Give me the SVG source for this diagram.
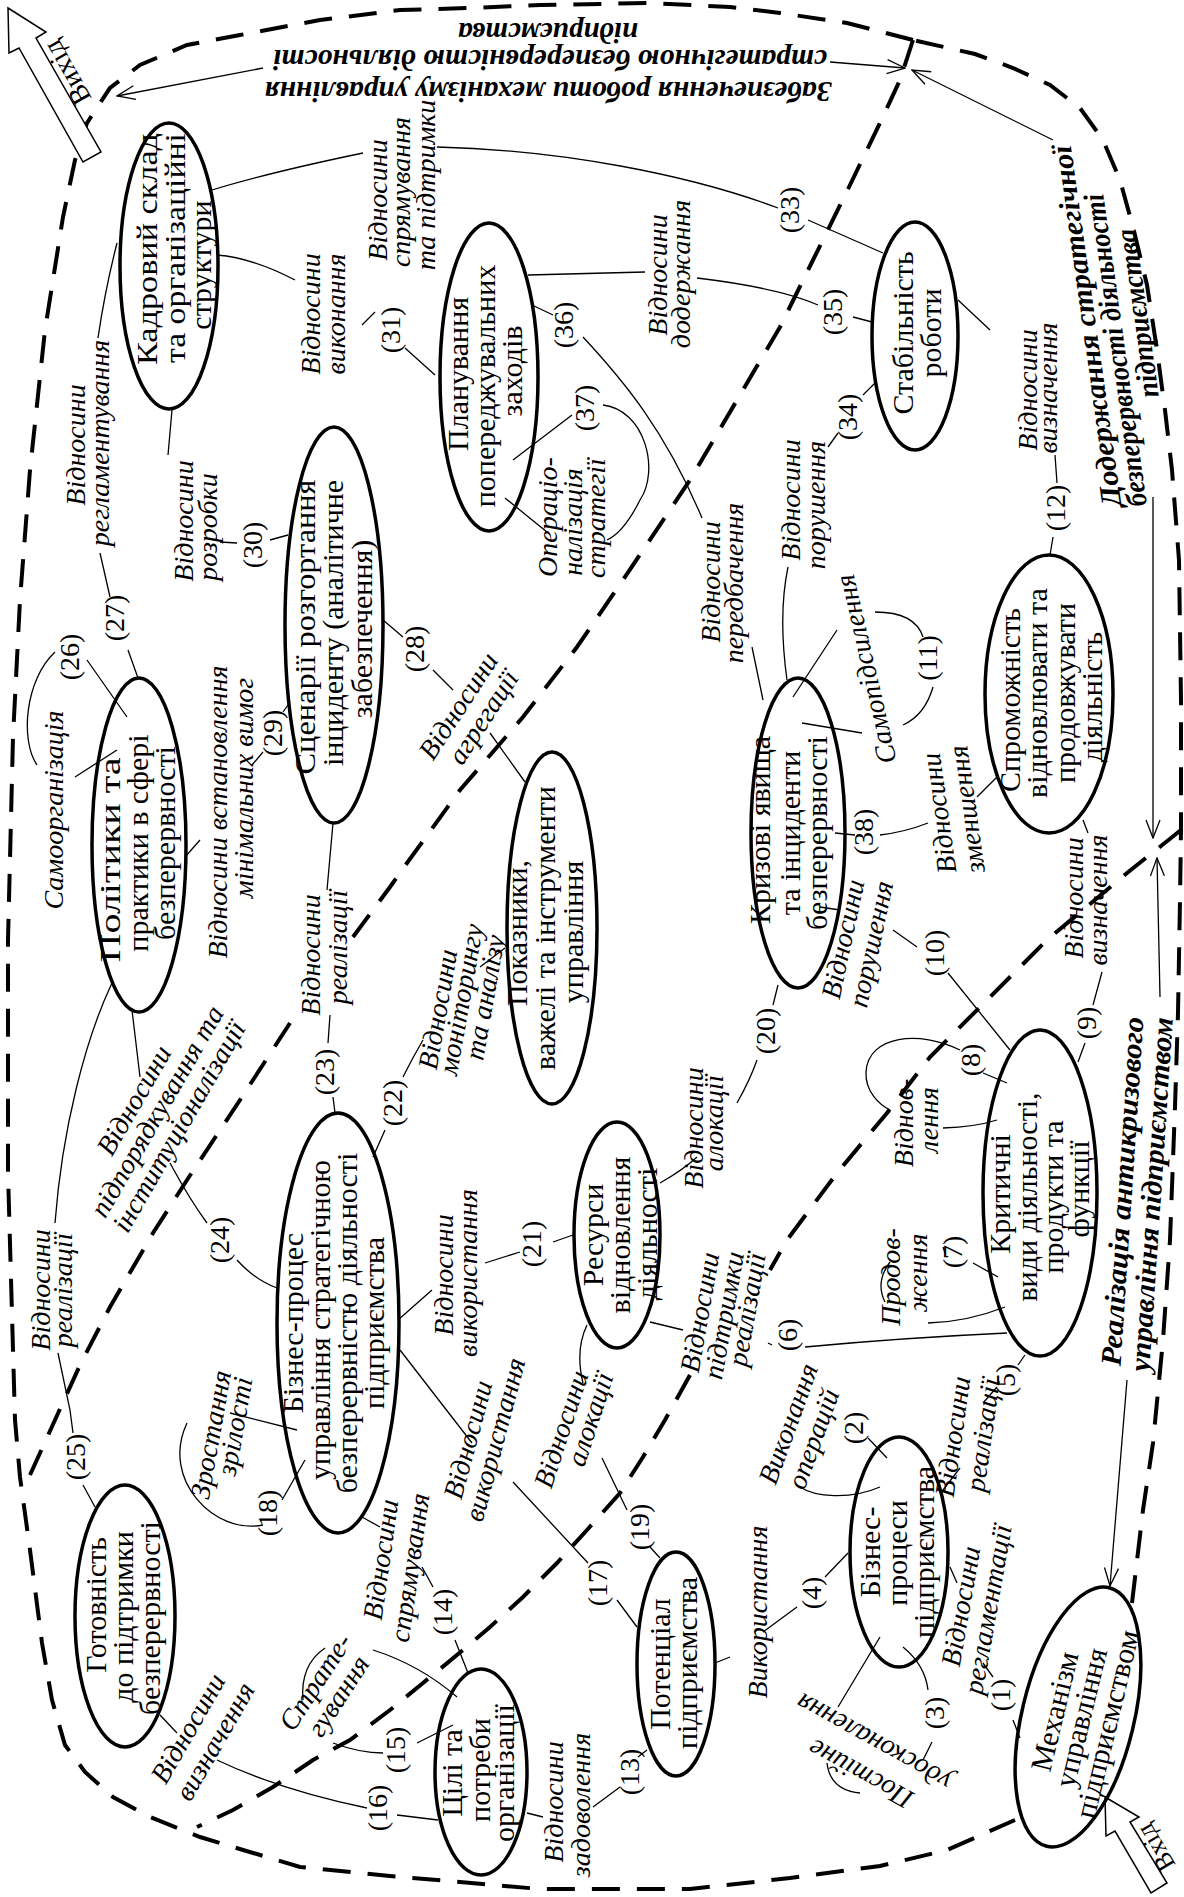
<svg xmlns="http://www.w3.org/2000/svg" width="1184" height="1897" viewBox="0 0 1184 1897">
<defs>
<style>
.dash{fill:none;stroke:#000;stroke-width:4;stroke-dasharray:28 17}
.ln{fill:none;stroke:#000;stroke-width:1.3}
.el{fill:none;stroke:#000;stroke-width:3.5}
.nt{font-family:'Liberation Serif','Times New Roman',serif;font-size:30px;text-anchor:middle}
.rt{font-family:'Liberation Serif','Times New Roman',serif;font-size:28px;font-style:italic;text-anchor:middle}
.num{font-family:'Liberation Serif','Times New Roman',serif;font-size:28px;text-anchor:middle}
.bt{font-family:'Liberation Serif','Times New Roman',serif;font-size:29px;font-weight:bold;font-style:italic;text-anchor:middle}
.ba{fill:#fff;stroke:#000;stroke-width:1.5}
</style>
<marker id="ah" viewBox="0 0 20 20" refX="19" refY="10" markerWidth="20" markerHeight="20" markerUnits="userSpaceOnUse" orient="auto"><path d="M1,3 L19,10 L1,17" fill="none" stroke="#000" stroke-width="1.3"/></marker>
</defs>
<rect width="1184" height="1897" fill="#fff"/>

<g id="boundaries">
<path class="dash" d="M913,40 L847,23 L780,13 L730,7 L650,3 L540,5 L470,8 L400,10 L320,20 L240,35 L187,45 L140,65 L110,88 L87,123 L75,160 L63,217 L45,330 L30,470 L20,600 L13,737 L8,940 L8,1173 L15,1420 L20,1477 L30,1550 L42,1643 L52,1700 L65,1745 L85,1772 L113,1797 L150,1817 L200,1837 L300,1867 L390,1876 L540,1889 L690,1889 L790,1878 L880,1866 L947,1850 L1015,1820"/>
<path class="dash" d="M1132,1603 L1143,1510 L1153,1443 L1163,1340 L1170,1240 L1175,1107 L1178,1013 L1180,900 L1181,830 L1181,700 L1179,560 L1172,470 L1165,410 L1157,350 L1147,285 L1133,227 L1120,180 L1103,140 L1080,108 L1050,85 L1013,68 L975,54 L913,40"/>
<path class="dash" d="M913,40 L900,80 L880,123 L850,185 L813,260 L780,327 L740,395 L690,480 L623,580 L577,647 L523,717 L460,790 L407,863 L390,887 L353,937"/>
<path class="dash" d="M290,1023 L240,1100 L187,1180 L153,1233 L110,1307 L80,1365 L55,1420 L30,1475"/>
<path class="dash" d="M1181,830 L1127,873 L1047,940 L980,1007 L930,1057 L887,1113 L837,1173 L787,1240 L770,1270"/>
<path class="dash" d="M690,1375 L665,1420 L643,1457 L620,1493 L587,1530 L557,1563 L523,1597 L490,1627 L463,1650 L423,1683 L390,1710 L350,1740 L313,1760 L273,1787 L233,1810 L197,1827"/>
</g>

<g id="frame-labels">
<text class="bt" transform="translate(548,82) rotate(180)" textLength="567" lengthAdjust="spacingAndGlyphs">Забезпечення роботи механізму управління</text>
<text class="bt" transform="translate(550,50) rotate(180)" textLength="554" lengthAdjust="spacingAndGlyphs">стратегічною безперервністю діяльності</text>
<text class="bt" transform="translate(548,23) rotate(180)" textLength="180" lengthAdjust="spacingAndGlyphs">підприємства</text>
<text class="bt" transform="translate(1096,325) rotate(-98)" textLength="365" lengthAdjust="spacingAndGlyphs">Додержання стратегічної</text>
<text class="bt" transform="translate(1125,349) rotate(-98)" textLength="315" lengthAdjust="spacingAndGlyphs">безперервності діяльності</text>
<text class="bt" transform="translate(1147,312) rotate(-98)" textLength="170" lengthAdjust="spacingAndGlyphs">підприємства</text>
<text class="bt" transform="translate(1132,1192) rotate(-86.2)" textLength="350" lengthAdjust="spacingAndGlyphs">Реалізація антикризового</text>
<text class="bt" transform="translate(1161,1195) rotate(-86.2)" textLength="355" lengthAdjust="spacingAndGlyphs">управління підприємством</text>
<polygon class="ba" points="8,8 46,32 36,38 101,152 83,162 19,48 9,53"/>
<text class="num" transform="translate(75,68) rotate(-119.4)">Вихід</text>
<polygon class="ba" points="1105,1797 1139,1817 1130,1822 1167,1883 1151,1893 1115,1831 1106,1836"/>
<text class="num" style="font-size:26px" transform="translate(1163,1843) rotate(-120.7)">Вхід</text>
</g>

<g id="connectors">
<path class="ln" marker-end="url(#ah)" d="M263,68 L117,96"/>
<path class="ln" marker-end="url(#ah)" d="M830,62 L905,68"/>
<path class="ln" marker-end="url(#ah)" d="M1053,140 L912,70"/>
<path class="ln" marker-end="url(#ah)" d="M1153,497 L1153,838"/>
<path class="ln" marker-end="url(#ah)" d="M1160,997 L1157,858"/>
<path class="ln" marker-end="url(#ah)" d="M1127,1380 L1110,1586"/>
<path class="ln" d="M950,1567 L957,1583 M983,1663 L993,1677 M1013,1720 L1020,1738"/>
<path class="ln" d="M887,1458 L868,1438 M880,1487 C850,1500 815,1497 800,1487"/>
<path class="ln" d="M880,1637 L838,1707 M903,1647 Q925,1665 928,1690 M932,1742 L923,1760 M827,1763 Q830,1790 860,1793"/>
<path class="ln" d="M715,1663 L730,1657 M763,1632 L797,1607 M825,1577 L848,1553"/>
<path class="ln" d="M1025,1355 L1018,1365 M997,1387 L983,1403 M943,1490 L960,1468"/>
<path class="ln" d="M805,1347 Q900,1338 1007,1333 M650,1322 L683,1330 M768,1343 L772,1345"/>
<path class="ln" d="M998,1277 L973,1263 M943,1247 L945,1253 M890,1262 Q875,1282 885,1302 M928,1323 Q967,1322 1005,1307"/>
<path class="ln" d="M1007,1083 L983,1073 M960,1050 C920,1030 868,1035 866,1072 C865,1092 880,1105 890,1110 M943,1128 Q975,1127 997,1120"/>
<path class="ln" d="M1083,820 L1088,833 M1102,972 L1093,1005 M1085,1043 L1078,1062"/>
<path class="ln" d="M820,907 L840,910 M893,930 L917,947 M948,973 L1010,1050"/>
<path class="ln" d="M793,697 L837,630 M875,612 Q915,612 923,637 M933,687 Q925,715 903,725 M802,723 L862,733"/>
<path class="ln" d="M958,300 L990,330 M1055,455 L1057,483 M1053,537 L1050,555"/>
<path class="ln" d="M647,1750 L638,1757 M620,1787 L593,1807 M543,1817 L527,1813"/>
<path class="ln" d="M362,1517 L380,1527 M422,1567 L433,1587 M455,1640 L468,1673"/>
<path class="ln" d="M325,1648 Q300,1665 303,1700 M333,1743 Q360,1753 383,1753 M373,1650 Q420,1665 457,1697 M417,1743 L453,1725"/>
<path class="ln" d="M160,1715 L177,1733 M217,1760 Q280,1790 367,1808 M397,1815 L438,1820"/>
<path class="ln" d="M400,1350 L472,1443 M513,1482 L588,1563 M617,1600 L637,1627"/>
<path class="ln" d="M263,1525 C215,1535 160,1480 187,1423 M230,1413 L297,1430 M282,1500 L305,1460"/>
<path class="ln" d="M587,1325 Q575,1350 583,1383 M602,1458 L627,1510 M650,1547 L660,1558"/>
<path class="ln" d="M660,1183 Q683,1170 697,1157 M737,1103 Q750,1080 757,1060 M773,1005 L778,985"/>
<path class="ln" d="M573,1235 L553,1242 M520,1252 L485,1263 M432,1290 L398,1320"/>
<path class="ln" d="M373,1157 L385,1130 M403,1077 Q413,1057 423,1040 M480,967 L505,948"/>
<path class="ln" d="M335,1113 L333,1097 M328,1043 L330,1015 M327,890 L333,823"/>
<path class="ln" d="M132,1010 L140,1077 M170,1163 Q190,1200 207,1223 M237,1260 Q255,1280 277,1288"/>
<path class="ln" d="M112,983 C85,1040 62,1130 55,1223 M58,1353 L70,1410 L73,1433 M83,1485 L95,1507"/>
<path class="ln" d="M55,652 C25,680 20,740 37,765 M87,660 L127,717 M75,777 L117,750"/>
<path class="ln" d="M117,243 Q105,290 98,338 M100,553 L110,597 M128,650 L138,678"/>
<path class="ln" d="M383,620 L403,637 M433,670 L453,690 M490,733 L525,782"/>
<path class="ln" d="M290,702 L283,712 M263,752 L252,765 M200,840 L185,857"/>
<path class="ln" d="M288,535 L270,540 M237,543 L220,542 M172,410 L168,455"/>
<path class="ln" d="M217,255 Q253,258 295,280 M362,325 L375,312 M405,348 L435,375"/>
<path class="ln" d="M212,190 Q267,173 363,153 M437,147 C563,150 690,175 778,208 M808,220 L883,253"/>
<path class="ln" d="M828,447 L838,433 M863,395 L875,383 M788,567 Q778,615 787,680"/>
<path class="ln" d="M528,275 L645,272 M697,278 Q780,288 818,305 M853,317 L872,322"/>
<path class="ln" d="M532,305 L553,315 M583,337 C623,380 665,430 702,518 M752,647 L763,700"/>
<path class="ln" d="M572,415 L513,460 M505,498 L547,532 M603,405 C645,410 660,470 640,500 C630,520 618,535 607,540"/>
<path class="ln" d="M835,833 L855,835 M880,835 Q905,832 928,823 M977,797 L997,777"/>
</g>

<g id="connector-labels">
<text class="rt" transform="translate(85,445) rotate(-90)">Відносини</text>
<text class="rt" transform="translate(109,443) rotate(-90)">регламентування</text>
<text class="rt" transform="translate(320,314) rotate(-90)">Відносини</text>
<text class="rt" transform="translate(345,314) rotate(-90)">виконання</text>
<text class="rt" transform="translate(387,200) rotate(-90)">Відносини</text>
<text class="rt" transform="translate(410,192) rotate(-90)">спрямування</text>
<text class="rt" transform="translate(435,185) rotate(-90)">та підтримки</text>
<text class="rt" transform="translate(667,275) rotate(-90)">Відносини</text>
<text class="rt" transform="translate(690,274) rotate(-90)">додержання</text>
<text class="rt" transform="translate(720,582) rotate(-90)">Відносини</text>
<text class="rt" transform="translate(743,583) rotate(-90)">передбачення</text>
<text class="rt" transform="translate(557,517) rotate(-90)">Операціо-</text>
<text class="rt" transform="translate(582,522) rotate(-90)">налізація</text>
<text class="rt" transform="translate(605,518) rotate(-90)">стратегії</text>
<text class="rt" transform="translate(800,500) rotate(-90)">Відносини</text>
<text class="rt" transform="translate(825,505) rotate(-90)">порушення</text>
<text class="rt" transform="translate(1037,390) rotate(-90)">Відносини</text>
<text class="rt" transform="translate(1057,388) rotate(-90)">визначення</text>
<text class="rt" transform="translate(875,667) rotate(-103)">Самопідсилення</text>
<text class="rt" transform="translate(948,812) rotate(-98)">Відносини</text>
<text class="rt" transform="translate(976,808) rotate(-98)">зменшення</text>
<text class="rt" transform="translate(1083,898) rotate(-90)">Відносини</text>
<text class="rt" transform="translate(1107,900) rotate(-90)">визначення</text>
<text class="rt" transform="translate(852,941) rotate(-78)">Відносини</text>
<text class="rt" transform="translate(880,946) rotate(-78)">порушення</text>
<text class="rt" transform="translate(913,1123) rotate(-90)">Віднов-</text>
<text class="rt" transform="translate(938,1120) rotate(-90)">лення</text>
<text class="rt" transform="translate(900,1277) rotate(-90)">Продов-</text>
<text class="rt" transform="translate(927,1273) rotate(-90)">ження</text>
<text class="rt" transform="translate(709,1314) rotate(-80)">Відносини</text>
<text class="rt" transform="translate(733,1317) rotate(-80)">підтримки</text>
<text class="rt" transform="translate(756,1311) rotate(-80)">реалізації</text>
<text class="rt" transform="translate(453,1275) rotate(-90)">Відносини</text>
<text class="rt" transform="translate(477,1273) rotate(-90)">використання</text>
<text class="rt" transform="translate(703,1128) rotate(-90)">Відносини</text>
<text class="rt" transform="translate(723,1123) rotate(-90)">алокації</text>
<text class="rt" transform="translate(447,1011) rotate(-80)">Відносини</text>
<text class="rt" transform="translate(470,1001) rotate(-80)">моніторингу</text>
<text class="rt" transform="translate(494,999) rotate(-80)">та аналізу</text>
<text class="rt" transform="translate(320,955) rotate(-90)">Відносини</text>
<text class="rt" transform="translate(347,947) rotate(-90)">реалізації</text>
<text class="rt" transform="translate(466,711) rotate(-57)">Відносини</text>
<text class="rt" transform="translate(491,722) rotate(-57)">агрегації</text>
<text class="rt" transform="translate(227,812) rotate(-90)">Відносини встановлення</text>
<text class="rt" transform="translate(253,788) rotate(-90)">мінімальних вимог</text>
<text class="rt" transform="translate(193,521) rotate(-90)">Відносини</text>
<text class="rt" transform="translate(217,527) rotate(-90)">розробки</text>
<text class="rt" transform="translate(63,810) rotate(-90)">Самоорганізація</text>
<text class="rt" transform="translate(142,1105) rotate(-60)">Відносини</text>
<text class="rt" transform="translate(165,1116) rotate(-60)">підпорядкування та</text>
<text class="rt" transform="translate(187,1131) rotate(-60)">інституціоналізації</text>
<text class="rt" transform="translate(50,1290) rotate(-90)">Відносини</text>
<text class="rt" transform="translate(72,1290) rotate(-90)">реалізації</text>
<text class="rt" transform="translate(220,1436) rotate(-80)">Зростання</text>
<text class="rt" transform="translate(244,1428) rotate(-80)">зрілості</text>
<text class="rt" transform="translate(390,1561) rotate(-82)">Відносини</text>
<text class="rt" transform="translate(419,1569) rotate(-82)">спрямування</text>
<text class="rt" transform="translate(323,1687) rotate(-57)">Страте-</text>
<text class="rt" transform="translate(346,1701) rotate(-57)">гування</text>
<text class="rt" transform="translate(196,1733) rotate(-60)">Відносини</text>
<text class="rt" transform="translate(223,1746) rotate(-60)">визначення</text>
<text class="rt" transform="translate(563,1802) rotate(-90)">Відносини</text>
<text class="rt" transform="translate(590,1805) rotate(-90)">задоволення</text>
<text class="rt" transform="translate(477,1442) rotate(-75)">Відносини</text>
<text class="rt" transform="translate(504,1442) rotate(-75)">використання</text>
<text class="rt" transform="translate(570,1432) rotate(-72)">Відносини</text>
<text class="rt" transform="translate(599,1422) rotate(-72)">алокації</text>
<text class="rt" transform="translate(767,1612) rotate(-90)">Використання</text>
<text class="rt" transform="translate(865,1766) rotate(-151)">Постійне</text>
<text class="rt" transform="translate(878,1734) rotate(-151)">удосконалення</text>
<text class="rt" transform="translate(970,1608) rotate(-80)">Відносини</text>
<text class="rt" transform="translate(997,1611) rotate(-80)">регламентації</text>
<text class="rt" transform="translate(797,1427) rotate(-70)">Виконання</text>
<text class="rt" transform="translate(822,1442) rotate(-70)">операцій</text>
<text class="rt" transform="translate(962,1438) rotate(-82)">Відносини</text>
<text class="rt" transform="translate(992,1436) rotate(-82)">реалізації</text>
<text class="num" transform="translate(1010,1695) rotate(-90)">(1)</text>
<text class="num" transform="translate(863,1428) rotate(-90)">(2)</text>
<text class="num" transform="translate(944,1713) rotate(-90)">(3)</text>
<text class="num" transform="translate(821,1593) rotate(-90)">(4)</text>
<text class="num" transform="translate(1015,1380) rotate(-90)">(5)</text>
<text class="num" transform="translate(797,1335) rotate(-90)">(6)</text>
<text class="num" transform="translate(962,1252) rotate(-90)">(7)</text>
<text class="num" transform="translate(980,1060) rotate(-90)">(8)</text>
<text class="num" transform="translate(1096,1023) rotate(-90)">(9)</text>
<text class="num" transform="translate(944,953) rotate(-90)">(10)</text>
<text class="num" transform="translate(937,658) rotate(-90)">(11)</text>
<text class="num" transform="translate(1065,508) rotate(-90)">(12)</text>
<text class="num" transform="translate(639,1772) rotate(-90)">(13)</text>
<text class="num" transform="translate(452,1612) rotate(-90)">(14)</text>
<text class="num" transform="translate(405,1750) rotate(-90)">(15)</text>
<text class="num" transform="translate(387,1808) rotate(-90)">(16)</text>
<text class="num" transform="translate(607,1583) rotate(-90)">(17)</text>
<text class="num" transform="translate(277,1513) rotate(-90)">(18)</text>
<text class="num" transform="translate(649,1527) rotate(-90)">(19)</text>
<text class="num" transform="translate(775,1031) rotate(-90)">(20)</text>
<text class="num" transform="translate(541,1244) rotate(-90)">(21)</text>
<text class="num" transform="translate(402,1103) rotate(-90)">(22)</text>
<text class="num" transform="translate(334,1072) rotate(-90)">(23)</text>
<text class="num" transform="translate(229,1240) rotate(-90)">(24)</text>
<text class="num" transform="translate(85,1457) rotate(-90)">(25)</text>
<text class="num" transform="translate(79,657) rotate(-90)">(26)</text>
<text class="num" transform="translate(124,618) rotate(-90)">(27)</text>
<text class="num" transform="translate(424,649) rotate(-90)">(28)</text>
<text class="num" transform="translate(282,733) rotate(-90)">(29)</text>
<text class="num" transform="translate(262,545) rotate(-90)">(30)</text>
<text class="num" transform="translate(400,330) rotate(-90)">(31)</text>
<text class="num" transform="translate(799,210) rotate(-90)">(33)</text>
<text class="num" transform="translate(857,417) rotate(-90)">(34)</text>
<text class="num" transform="translate(842,312) rotate(-90)">(35)</text>
<text class="num" transform="translate(573,325) rotate(-90)">(36)</text>
<text class="num" transform="translate(594,408) rotate(-90)">(37)</text>
<text class="num" transform="translate(873,832) rotate(-90)">(38)</text>
</g>

<g id="n1"><ellipse class="el" cx="169" cy="266" rx="49" ry="143"/>
<text class="nt" transform="translate(157,249) rotate(-90)" textLength="232" lengthAdjust="spacingAndGlyphs">Кадровий склад</text>
<text class="nt" transform="translate(185,248) rotate(-90)" textLength="230" lengthAdjust="spacingAndGlyphs">та організаційні</text>
<text class="nt" transform="translate(211,265) rotate(-90)">структури</text></g>
<g id="n2"><ellipse class="el" cx="489" cy="377" rx="49" ry="154"/>
<text class="nt" transform="translate(468,374) rotate(-90)">Планування</text>
<text class="nt" transform="translate(495,386) rotate(-90)">попереджувальних</text>
<text class="nt" transform="translate(522,371) rotate(-90)">заходів</text></g>
<g id="n3"><ellipse class="el" cx="915" cy="336" rx="43" ry="114"/>
<text class="nt" transform="translate(913,333) rotate(-90)">Стабільність</text>
<text class="nt" transform="translate(941,333) rotate(-90)">роботи</text></g>
<g id="n4"><ellipse class="el" cx="139" cy="845" rx="47" ry="167"/>
<text class="nt" transform="translate(120,860) rotate(-90)" textLength="205" lengthAdjust="spacingAndGlyphs">Політики та</text>
<text class="nt" transform="translate(148,843) rotate(-90)">практики в сфері</text>
<text class="nt" transform="translate(175,843) rotate(-90)">безперервності</text></g>
<g id="n5"><ellipse class="el" cx="334" cy="625" rx="49" ry="198"/>
<text class="nt" transform="translate(315,627) rotate(-90)" textLength="295" lengthAdjust="spacingAndGlyphs">Сценарії розгортання</text>
<text class="nt" transform="translate(343,623) rotate(-90)">інциденту (аналітичне</text>
<text class="nt" transform="translate(372,629) rotate(-90)">забезпечення)</text></g>
<g id="n6"><ellipse class="el" cx="552" cy="928" rx="45" ry="176"/>
<text class="nt" transform="translate(527,933) rotate(-90)">Показники,</text>
<text class="nt" transform="translate(555,928) rotate(-90)">важелі та інструменти</text>
<text class="nt" transform="translate(583,932) rotate(-90)">управління</text></g>
<g id="n7"><ellipse class="el" cx="798" cy="833" rx="47" ry="155"/>
<text class="nt" transform="translate(770,830) rotate(-90)">Кризові явища</text>
<text class="nt" transform="translate(800,833) rotate(-90)">та інциденти</text>
<text class="nt" transform="translate(827,833) rotate(-90)">безперервності</text></g>
<g id="n8"><ellipse class="el" cx="1049" cy="694" rx="64" ry="139"/>
<text class="nt" transform="translate(1020,700) rotate(-90)">Спроможність</text>
<text class="nt" transform="translate(1047,693) rotate(-90)">відновлювати та</text>
<text class="nt" transform="translate(1075,693) rotate(-90)">продовжувати</text>
<text class="nt" transform="translate(1102,697) rotate(-90)">діяльність</text></g>
<g id="n9"><ellipse class="el" cx="338" cy="1323" rx="61" ry="210"/>
<text class="nt" transform="translate(303,1323) rotate(-90)">Бізнес-процес</text>
<text class="nt" transform="translate(330,1320) rotate(-90)">управління стратегічною</text>
<text class="nt" transform="translate(357,1323) rotate(-90)">безперервністю діяльності</text>
<text class="nt" transform="translate(384,1323) rotate(-90)">підприємства</text></g>
<g id="n10"><ellipse class="el" cx="617" cy="1235" rx="43" ry="113"/>
<text class="nt" transform="translate(603,1235) rotate(-90)">Ресурси</text>
<text class="nt" transform="translate(630,1235) rotate(-90)">відновлення</text>
<text class="nt" transform="translate(657,1234) rotate(-90)">діяльності</text></g>
<g id="n11"><ellipse class="el" cx="1040" cy="1193" rx="57" ry="163"/>
<text class="nt" transform="translate(1010,1194) rotate(-90)">Критичні</text>
<text class="nt" transform="translate(1037,1197) rotate(-90)">види діяльності,</text>
<text class="nt" transform="translate(1063,1197) rotate(-90)">продукти та</text>
<text class="nt" transform="translate(1089,1189) rotate(-90)">функції</text></g>
<g id="n12"><ellipse class="el" cx="125" cy="1616" rx="50" ry="131"/>
<text class="nt" transform="translate(106,1605) rotate(-90)">Готовність</text>
<text class="nt" transform="translate(133,1617) rotate(-90)">до підтримки</text>
<text class="nt" transform="translate(160,1618) rotate(-90)">безперервності</text></g>
<g id="n13"><ellipse class="el" cx="481" cy="1772" rx="46" ry="103"/>
<text class="nt" transform="translate(462,1773) rotate(-90)">Цілі та</text>
<text class="nt" transform="translate(490,1770) rotate(-90)">потреби</text>
<text class="nt" transform="translate(514,1773) rotate(-90)">організації</text></g>
<g id="n14"><ellipse class="el" cx="676" cy="1664" rx="39" ry="112"/>
<text class="nt" transform="translate(670,1664) rotate(-90)">Потенціал</text>
<text class="nt" transform="translate(697,1663) rotate(-90)">підприємства</text></g>
<g id="n15"><ellipse class="el" cx="899" cy="1552" rx="49" ry="115"/>
<text class="nt" transform="translate(880,1552) rotate(-90)">Бізнес-</text>
<text class="nt" transform="translate(907,1553) rotate(-90)">процеси</text>
<text class="nt" transform="translate(934,1552) rotate(-90)">підприємства</text></g>
<g id="n16" transform="translate(1078,1717) rotate(13.6)"><ellipse class="el" cx="0" cy="0" rx="56" ry="133"/>
<text class="nt" transform="translate(-14,0) rotate(-90)">Механізм</text>
<text class="nt" transform="translate(13,0) rotate(-90)">управління</text>
<text class="nt" transform="translate(40,0) rotate(-90)">підприємством</text></g>
</svg>
